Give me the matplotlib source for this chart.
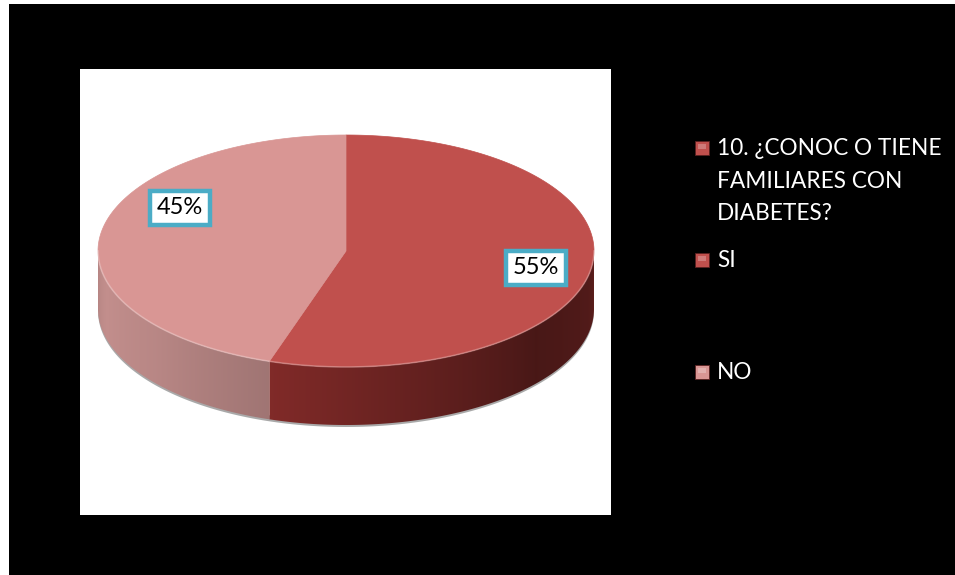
import numpy as np
import matplotlib
matplotlib.use("Agg")
import matplotlib.pyplot as plt
from matplotlib.patches import Polygon, Rectangle

# ---- data ----
series_name = "10. ¿CONOC O TIENE\nFAMILIARES CON\nDIABETES?"
categories = ["SI", "NO"]
values = [55, 45]
pct_labels = ["55%", "45%"]

# ---- style ----
top_colors = ["#C0504D", "#D99694"]
side_colors = [np.array([140, 46, 44]) / 255, np.array([205, 150, 148]) / 255]
FONT = "Lato"

W, H = 955, 575
fig = plt.figure(figsize=(W / 100, H / 100), dpi=100)
fig.patch.set_facecolor("black")
ax = fig.add_axes([0, 0, 1, 1])
ax.set_xlim(0, W)
ax.set_ylim(H, 0)
ax.axis("off")

ax.add_patch(Rectangle((0, 0), 9, H, fc="white", ec="none", zorder=0))
ax.add_patch(Rectangle((0, 0), W, 4, fc="white", ec="none", zorder=0))
ax.add_patch(Rectangle((80, 69), 531, 446, fc="white", ec="none", zorder=1))

cx, cy, a, b, depth = 346, 251, 248, 116, 58


def pt(t, dy=0.0):
    return cx + a * np.cos(t), cy - b * np.sin(t) + dy


fr = np.array(values, dtype=float) / sum(values)
starts = 90 - 360 * np.concatenate([[0], np.cumsum(fr)[:-1]])
ends = starts - 360 * fr


def shade_factor(i, tdeg):
    if i == 0:
        xs = [-108, -70, -40, -12, 0]
        fs = [0.92, 0.70, 0.52, 0.58, 0.66]
    else:
        xs = [-180, -165, -140, -108]
        fs = [0.88, 0.95, 0.9, 0.78]
    return np.interp(tdeg, xs, fs)


# shadow under pie
ts = np.radians(np.linspace(-180, 0, 200))
sx, sy = pt(ts, depth + 2)
shadow = np.column_stack([np.concatenate([sx, sx[::-1]]),
                          np.concatenate([sy, (sy - 6)[::-1]])])
ax.add_patch(Polygon(shadow, closed=True, fc="#555555", ec="none", alpha=0.5, zorder=2))

# sides with smooth gradients
for i in range(len(values)):
    vlo, vhi = max(ends[i], -180), min(starts[i], 0)
    if vhi <= vlo:
        continue
    tt = np.radians(np.linspace(vlo, vhi, 200))
    ux, uy = pt(tt)
    lx, ly = pt(tt[::-1], depth)
    poly = Polygon(np.column_stack([np.concatenate([ux, lx]), np.concatenate([uy, ly])]),
                   closed=True, fc="none", ec="none", zorder=3)
    ax.add_patch(poly)
    # gradient as function of x (monotonic in angle on the front half)
    x0, x1 = ux.min(), ux.max()
    gx = np.linspace(x0, x1, 400)
    gt = np.degrees(np.arccos(np.clip((gx - cx) / a, -1, 1))) * -1
    f = shade_factor(i, gt)
    img = np.clip(side_colors[i][None, :] * f[:, None], 0, 1)[None, :, :]
    im = ax.imshow(img, extent=(x0, x1, uy.max() + depth + 1, uy.min() - 1),
                   aspect="auto", interpolation="bilinear", zorder=3)
    im.set_clip_path(poly)

# top faces
for i in range(len(values)):
    tt = np.radians(np.linspace(starts[i], ends[i], 200))
    xs, ys = pt(tt)
    poly = np.column_stack([np.concatenate([[cx], xs]), np.concatenate([[cy], ys])])
    ax.add_patch(Polygon(poly, closed=True, fc=top_colors[i], ec=top_colors[i], lw=0.5, zorder=4))

tt = np.radians(np.linspace(-180, 0, 200))
xs, ys = pt(tt)
ax.plot(xs, ys, color="white", alpha=0.25, lw=1.2, zorder=5)

ax.set_xlim(0, W)
ax.set_ylim(H, 0)

# percentage labels
label_pos = [(536, 268), (180, 208)]
for (lx, ly), txt in zip(label_pos, pct_labels):
    ax.text(lx, ly, txt, fontsize=17, family=FONT, color="black", ha="center", va="center",
            zorder=6,
            bbox=dict(boxstyle="square,pad=0.28", fc="white", ec="#4BACC6", lw=3.2))

# legend
leg_labels = [series_name] + categories
leg_colors = [top_colors[0], top_colors[0], top_colors[1]]
leg_marker_y = [148, 260, 372]
leg_baseline = [155, 267, 379]
line_step = 32.5
for lab, col, my, by in zip(leg_labels, leg_colors, leg_marker_y, leg_baseline):
    ax.add_patch(Rectangle((695, my - 7), 14, 14, fc=col, ec="#5a2020", lw=0.6, zorder=6))
    ax.add_patch(Rectangle((698, my - 4), 8, 5, fc="white", ec="none", alpha=0.25, zorder=7))
    for j, line in enumerate(lab.split("\n")):
        ax.text(717, by + j * line_step, line, fontsize=16.3, family=FONT, color="white",
                ha="left", va="baseline", zorder=6)

fig.savefig("out.png", dpi=100, facecolor="black")
